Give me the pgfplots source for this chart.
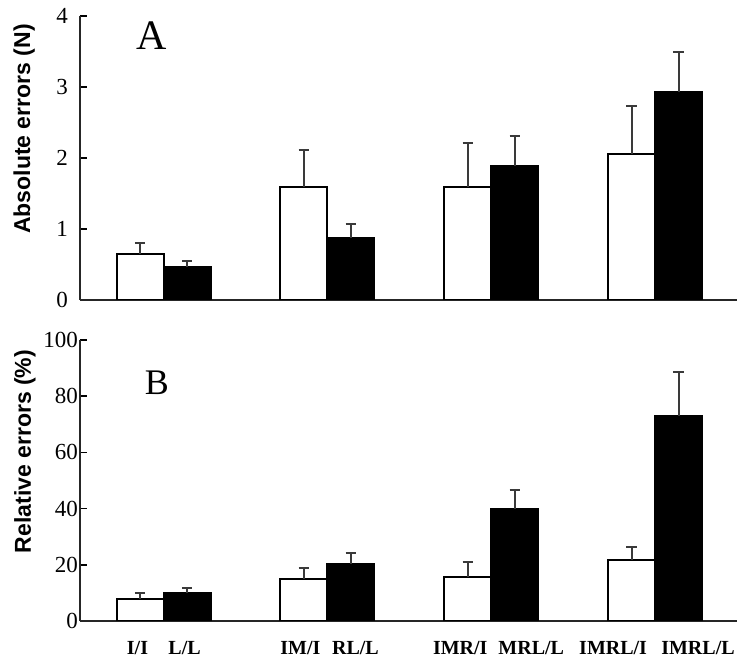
\documentclass[border=0pt]{standalone}
\usepackage{pgfplots}
\pgfplotsset{compat=1.18}
\usepackage{fontspec}
\setmainfont{Liberation Serif}
\setsansfont{Liberation Sans}
\definecolor{errgray}{HTML}{3A3A3A}
\pgfplotsset{
  errplot/.style={
    scale only axis,
    width=328.5pt,
    axis lines*=left,
    axis line style={line width=1pt, black!85},
    xmin=-0.51, xmax=3.5,
    ymin=0,
    tick align=inside,
    major tick length=3.5pt,
    ytick style={line width=0.8pt, black},
    xtick style={draw=none},
    /pgf/number format/assume math mode=true,
    yticklabel style={font=\fontsize{11.5}{13}\selectfont},
    ylabel style={font=\sffamily\bfseries\fontsize{11.5}{13}\selectfont, anchor=center},
    bar width=0.287,
    error bars/y dir=plus,
    error bars/y explicit,
    error bars/error mark options={rotate=90, mark size=2.6pt, line width=1pt, errgray},
    error bars/error bar style={line width=1pt, errgray},
  },
  whitebar/.style={ybar, bar shift=0, fill=white, draw=black, line width=1pt},
  blackbar/.style={ybar, bar shift=0, fill=black, draw=black, line width=1pt},
}
\begin{document}
\begin{tikzpicture}
\useasboundingbox (-40pt,-181pt) rectangle (335pt,150pt);
% A: absolute errors
\begin{axis}[errplot,
    at={(0,0)}, anchor=south west,
    height=142pt,
    ymax=4, ytick={0,1,2,3,4},
    xtick=\empty,
    yticklabel style={xshift=-2.5pt},
    ylabel={Absolute errors (N)},
    ylabel style={at={(axis description cs:-0.085,0.602)}},
  ]
\addplot[whitebar] coordinates {(-0.1435,0.65) +- (0,0.15) (0.8565,1.59) +- (0,0.52) (1.8565,1.59) +- (0,0.62) (2.8565,2.06) +- (0,0.67)};
\addplot[blackbar] coordinates {(0.1435,0.46) +- (0,0.09) (1.1435,0.87) +- (0,0.20) (2.1435,1.89) +- (0,0.42) (3.1435,2.93) +- (0,0.56)};
\node[font=\fontsize{21}{24}\selectfont] at (axis cs:-0.07,3.72) {A};
\end{axis}
% B: relative errors
\begin{axis}[errplot,
    at={(0,-20pt)}, anchor=north west,
    height=140.5pt,
    ymax=100, ytick={0,20,40,60,80,100},
    yticklabel style={xshift=2.5pt},
    xtick={-0.159,0.128,0.835,1.171,1.811,2.244,2.744,3.262},
    xticklabels={I/I, L/L, IM/I, RL/L, IMR/I, MRL/L, IMRL/I, IMRL/L},
    xticklabel style={font=\bfseries\fontsize{10}{12}\selectfont, yshift=-6.5pt},
    ylabel={Relative errors (\%)},
    ylabel style={at={(axis description cs:-0.084,0.603)}},
  ]
\addplot[whitebar] coordinates {(-0.1435,7.8) +- (0,2.2) (0.8565,15.0) +- (0,3.9) (1.8565,15.7) +- (0,5.3) (2.8565,21.7) +- (0,4.6)};
\addplot[blackbar] coordinates {(0.1435,10.0) +- (0,1.7) (1.1435,20.3) +- (0,3.9) (2.1435,39.9) +- (0,6.7) (3.1435,73.0) +- (0,15.6)};
\node[font=\fontsize{18}{21}\selectfont] at (axis cs:-0.04,84.7) {B};
\end{axis}
\end{tikzpicture}
\end{document}
